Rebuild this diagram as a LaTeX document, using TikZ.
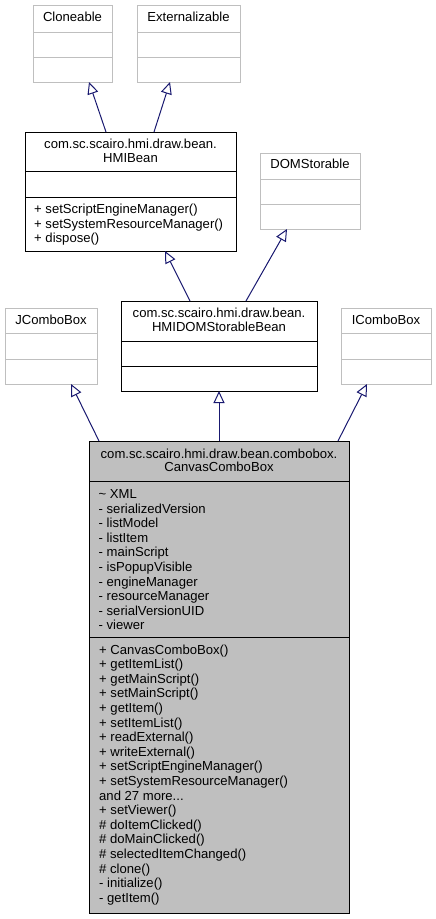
\documentclass[tikz,border=0pt]{standalone}
\usepackage{fontspec}
\setmainfont{Liberation Sans}
\usetikzlibrary{arrows.meta}
\definecolor{edgeblue}{HTML}{191970}
\definecolor{lightborder}{HTML}{BFBFBF}
\definecolor{classfill}{HTML}{BFBFBF}
\newcommand\mydots{...}
\begin{document}
\begin{tikzpicture}[x=1pt,y=-1pt,
  box/.style={draw=black, line width=1pt, fill=white, anchor=north west, inner sep=0pt, outer sep=0pt},
  extbox/.style={box, draw=lightborder},
  mainbox/.style={box, fill=classfill},
  divline/.style={line width=1pt},
  txt/.style={font=\fontsize{13.1}{14.6}\selectfont, inner sep=0pt, anchor=base},
  item/.style={txt, anchor=base west},
  inh/.style={draw=edgeblue, line width=1pt, -{Triangle[length=12pt, width=11pt, fill=white]}},
]
\useasboundingbox (0,0) rectangle (436,919);

% boxes
\node[extbox, minimum width=79pt, minimum height=77pt] (cloneable) at (33,5) {};
\node[extbox, minimum width=103pt, minimum height=77pt] (extern) at (137,5) {};
\node[box, minimum width=211pt, minimum height=119pt] (hmibean) at (25,132) {};
\node[extbox, minimum width=100pt, minimum height=76pt] (domstor) at (260,153) {};
\node[box, minimum width=196pt, minimum height=90pt] (hmidom) at (121,301) {};
\node[extbox, minimum width=92pt, minimum height=76pt] (jcombo) at (5,308) {};
\node[extbox, minimum width=90pt, minimum height=76pt] (icombo) at (341,308) {};
\node[mainbox, minimum width=260pt, minimum height=472pt] (canvas) at (89,441) {};

% dividers
\foreach \b/\a/\c/\col in {cloneable/27/52/lightborder, extern/27/52/lightborder,
  hmibean/39/65/black, domstor/26/51/lightborder, hmidom/40/65/black,
  jcombo/25/51/lightborder, icombo/25/51/lightborder, canvas/40/196/black}{
  \draw[divline, draw=\col] ([yshift=-\a pt]\b.north west) -- ([yshift=-\a pt]\b.north east);
  \draw[divline, draw=\col] ([yshift=-\c pt]\b.north west) -- ([yshift=-\c pt]\b.north east);
}

% titles
\node[txt] (cloneablename) at (72.5,21.7) {Cloneable};
\node[txt] (externname) at (188.5,21.7) {Externalizable};
\node[txt] (hmibeanpkg) at (130.5,148.5) {com.sc.scairo.hmi.draw.bean.};
\node[txt] (hmibeanname) at (130.5,162) {HMIBean};
\node[txt] (domstorname) at (310,168.7) {DOMStorable};
\node[txt] (hmidompkg) at (219,317.5) {com.sc.scairo.hmi.draw.bean.};
\node[txt] (hmidomname) at (219,331) {HMIDOMStorableBean};
\node[txt] (jcomboname) at (51,324) {JComboBox};
\node[txt] (icomboname) at (386,324) {IComboBox};
\node[txt] (canvaspkg) at (219,458) {com.sc.scairo.hmi.draw.bean.combobox.};
\node[txt] (canvasname) at (219,471) {CanvasComboBox};

% members
\foreach \t [count=\i] in {+ setScriptEngineManager(), + setSystemResourceManager(), + dispose()}
  \node[item] (hmibeanop\i) at (34,{213.7+14.6*(\i-1)}) {\t};
\foreach \t [count=\i] in {\textasciitilde{} XML, - serializedVersion, - listModel, - listItem,
  - mainScript, - isPopupVisible, - engineManager, - resourceManager, - serialVersionUID, - viewer}
  \node[item] (canvasattr\i) at (98.5,{498.5+14.6*(\i-1)}) {\t};
\foreach \t [count=\i] in {+ CanvasComboBox(), + getItemList(), + getMainScript(), + setMainScript(),
  + getItem(), + setItemList(), + readExternal(), + writeExternal(), + setScriptEngineManager(),
  + setSystemResourceManager(), and 27 more\mydots, + setViewer(), \# doItemClicked(),
  \# doMainClicked(), \# selectedItemChanged(), \# clone(), - initialize(), - getItem()}
  \node[item] (canvasop\i) at (99,{654+14.6*(\i-1)}) {\t};

% inheritance connectors
\draw[inh] ([xshift=81pt]hmibean.north west) -- ([xshift=56pt]cloneable.south west);
\draw[inh] ([xshift=129pt]hmibean.north west) -- ([xshift=33pt]extern.south west);
\draw[inh] ([xshift=69pt]hmidom.north west) -- ([xshift=140pt]hmibean.south west);
\draw[inh] ([xshift=125pt]hmidom.north west) -- ([xshift=27pt]domstor.south west);
\draw[inh] ([xshift=10pt]canvas.north west) -- ([xshift=66pt]jcombo.south west);
\draw[inh] (canvas.north) -- (hmidom.south);
\draw[inh] ([xshift=249pt]canvas.north west) -- ([xshift=26pt]icombo.south west);
\end{tikzpicture}
\end{document}
